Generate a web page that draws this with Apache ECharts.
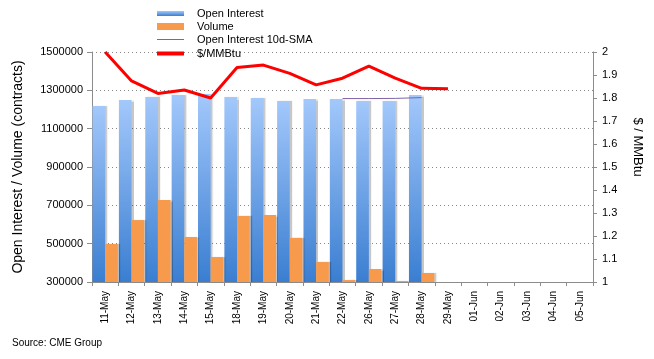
<!DOCTYPE html>
<html><head><meta charset="utf-8">
<script src="https://cdn.jsdelivr.net/npm/echarts@6/dist/echarts.min.js"></script>
<style>html,body{margin:0;padding:0;background:#fff}#c{width:654px;height:359px}</style>
</head><body><div id="c"></div>
<script>
const categories = ['11-May','12-May','13-May','14-May','15-May','18-May','19-May','20-May','21-May','22-May','26-May','27-May','28-May','29-May','01-Jun','02-Jun','03-Jun','04-Jun','05-Jun'];
const openInterest = [1218000,1250000,1265000,1276000,1281000,1265000,1260000,1244000,1255000,1255000,1244000,1244000,1276000,null,null,null,null,null,null];
const volume = [498000,623000,728000,535000,430000,644000,650000,530000,404000,310000,368000,305000,347000,null,null,null,null,null,null];
const sma10 = [null,null,null,null,null,null,null,null,null,1257000,1257000,1258000,1262000,null,null,null,null,null,null];
const price = [2.0,1.874,1.82,1.835,1.80,1.933,1.943,1.907,1.857,1.886,1.939,1.886,1.842,1.84,null,null,null,null,null];
const leftTickLabels = ['300000','500000','700000','900000','1100000','1300000','1500000'];
const priceTicks = {min: 1, max: 2, interval: 0.1};

const FONT = 'Liberation Sans, Arial, sans-serif';
const grey = '#8c8c8c';
const blueGrad = new echarts.graphic.LinearGradient(0,0,0,1,[
  {offset:0,color:'#a3c8fb'},{offset:1,color:'#3a7ed1'}]);
const orange = '#f79a4c';
const shadow = {shadowColor:'rgba(0,0,0,0.22)', shadowOffsetX:2, shadowOffsetY:0, shadowBlur:1};

const chart = echarts.init(document.getElementById('c'), null, {renderer:'canvas'});
function lg(name, icon, h, top){
  return {show:true, data:[{name:name, icon:icon}], left:157, top:top, orient:'vertical',
    itemWidth:27, itemHeight:h, padding:0, selectedMode:false,
    textStyle:{fontFamily:FONT, fontSize:11, color:'#000', padding:[0,0,0,8]}};
}
chart.setOption({
  animation:false,
  textStyle:{fontFamily:FONT},
  legend:[
    lg('Open Interest','rect',5,8),
    lg('Volume','rect',7,21),
    lg('Open Interest 10d-SMA','rect',1,34),
    lg('$/MMBtu','rect',4,48)
  ],
  grid:{left:92,right:61,top:52,bottom:77},
  xAxis:{type:'category', data:categories, boundaryGap:true,
    axisLine:{lineStyle:{color:grey}},
    axisTick:{show:true, length:4, interval:0, lineStyle:{color:grey}},
    axisLabel:{rotate:90, interval:0, fontSize:10, color:'#000', margin:9, fontFamily:FONT}},
  yAxis:[
    {type:'value', min:300000, max:1500000, position:'left',
      axisLine:{show:true, lineStyle:{color:grey}}, axisTick:{show:false},
      axisLabel:{show:false}, splitLine:{show:false}},
    {type:'value', min:priceTicks.min, max:priceTicks.max, interval:priceTicks.interval, position:'right',
      name:'$ / MMBtu', nameLocation:'middle', nameRotate:-90, nameGap:38,
      nameTextStyle:{fontSize:13, color:'#000', fontFamily:FONT, padding:[0,40,0,0]},
      axisLine:{show:true, lineStyle:{color:grey}},
      axisTick:{show:true, length:4, lineStyle:{color:grey}},
      axisLabel:{fontSize:11, color:'#000', margin:9, fontFamily:FONT},
      splitLine:{show:false}},
    {type:'value', min:0, max:leftTickLabels.length-1, interval:1, position:'left',
      name:'Open Interest / Volume (contracts)', nameLocation:'middle', nameGap:67,
      nameTextStyle:{fontSize:14, color:'#000', fontFamily:FONT},
      axisLine:{show:false},
      axisTick:{show:true, length:5, lineStyle:{color:grey}},
      axisLabel:{fontSize:11, color:'#000', margin:9, fontFamily:FONT,
        formatter:function(v){return leftTickLabels[v];}},
      splitLine:{show:true, lineStyle:{color:'#888', type:[1,3], width:1}}}
  ],
  series:[
    {name:'Open Interest', type:'bar', yAxisIndex:0, data:openInterest,
      barGap:'0%', barCategoryGap:'4%',
      itemStyle:Object.assign({color:blueGrad}, shadow)},
    {name:'Volume', type:'bar', yAxisIndex:0, data:volume,
      barGap:'0%', barCategoryGap:'4%',
      itemStyle:Object.assign({color:orange}, shadow)},
    {name:'Open Interest 10d-SMA', type:'line', yAxisIndex:0, data:sma10,
      symbol:'none', itemStyle:{color:'#7e63a8'}, lineStyle:{color:'#7e63a8', width:1}},
    {name:'$/MMBtu', type:'line', yAxisIndex:1, data:price,
      symbol:'none', itemStyle:{color:'#ff0000'}, lineStyle:{color:'#ff0000', width:3}}
  ],
  graphic:[{type:'text', left:12, top:338, style:{text:'Source: CME Group', font:'10px '+FONT, fill:'#000'}}]
});
</script></body></html>
